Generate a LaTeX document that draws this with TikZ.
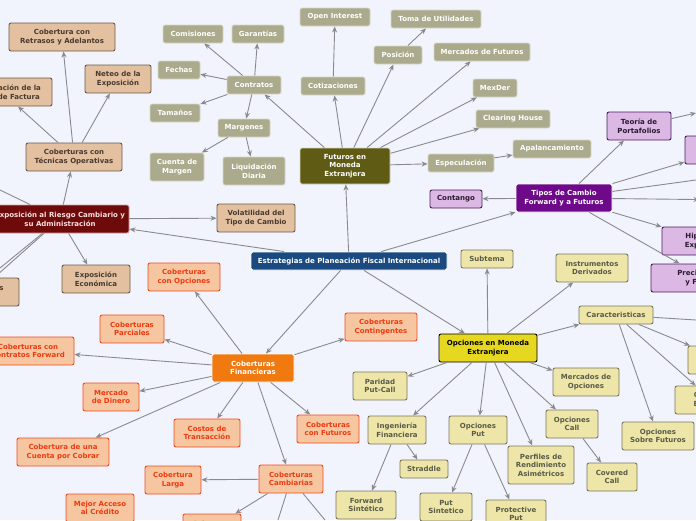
\documentclass[tikz,border=0pt]{standalone}
\usepackage{fontspec}
\setmainfont{DejaVu Sans}
\usetikzlibrary{arrows.meta}
\definecolor{bgc}{HTML}{F2F4FD}
\definecolor{edgec}{HTML}{8A8A8E}
\definecolor{tanF}{HTML}{E2C0A0}\definecolor{tanD}{HTML}{6B5A48}\definecolor{tanT}{HTML}{4A3A2E}
\definecolor{olvF}{HTML}{ABAA8C}\definecolor{olvD}{HTML}{D8D8C8}
\definecolor{purF}{HTML}{DCB8E4}\definecolor{purD}{HTML}{4A1A5A}\definecolor{purT}{HTML}{2A1A30}
\definecolor{yelF}{HTML}{EDE6A8}\definecolor{yelD}{HTML}{7A7660}\definecolor{yelT}{HTML}{5A5A48}
\definecolor{oraF}{HTML}{F6C6A0}\definecolor{oraD}{HTML}{F04A20}\definecolor{oraT}{HTML}{F03A10}
\definecolor{mainF}{HTML}{1A4A80}
\definecolor{redF}{HTML}{6E0A0A}\definecolor{redD}{HTML}{D8A0A0}\definecolor{redT}{HTML}{F8E0E0}
\definecolor{futF}{HTML}{5F5A14}\definecolor{futD}{HTML}{D8D8C0}
\definecolor{tipF}{HTML}{6E0A8A}
\definecolor{opcF}{HTML}{E6D820}
\definecolor{cfiF}{HTML}{F07A10}
\tikzset{
 box/.style={draw, rounded corners=2pt, line width=0.9pt, align=center, inner sep=1pt, font=\fontsize{7}{8.5}\selectfont\bfseries},
 tan/.style={box, fill=tanF, draw=tanD, text=tanT},
 olv/.style={box, fill=olvF, draw=olvD, text=white},
 pur/.style={box, fill=purF, draw=purD, text=purT},
 yel/.style={box, fill=yelF, draw=yelD, text=yelT},
 ora/.style={box, fill=oraF, draw=oraD, text=oraT},
 con/.style={draw=edgec, line width=0.9pt, -{Stealth[length=6pt,width=5pt]}},
 lin/.style={draw=edgec, line width=0.9pt},
}
\newcommand{\N}[7]{\node[#6, minimum width=#4pt, minimum height=#5pt] (#1) at (#2,#3) {#7};}
\begin{document}
\begin{tikzpicture}[x=1pt,y=-1pt]
\useasboundingbox (0,0) rectangle (696,520);
\fill[bgc] (0,0) rectangle (696,520);
\clip (0,0) rectangle (696,520);
% main
\N{main}{349}{261}{196}{18}{box,fill=mainF,draw=white,text=white}{Estrategias de Planeación Fiscal Internacional}
\N{red}{60}{219}{138}{28}{box,fill=redF,draw=redD,text=redT}{Exposición al Riesgo Cambiario y\\su Administración}
\N{ret}{62}{37}{106}{28}{tan}{Cobertura con\\Retrasos y Adelantos}
\N{net}{118}{79}{66}{28}{tan}{Neteo de la\\Exposición}
\N{fac}{2}{92}{100}{28}{tan}{Denominación de la\\Moneda de Factura}
\N{tec}{74}{157}{96}{28}{tan}{Coberturas con\\Técnicas Operativas}
\N{vol}{256}{218}{78}{28}{tan}{Volatilidad del\\Tipo de Cambio}
\N{eco}{96}{279}{68}{28}{tan}{Exposición\\Económica}
\N{cnt}{-22}{292}{82}{28}{tan}{Exposiciones\\Contables}
\coordinate (offL) at (0,190);
\coordinate (offL2) at (0,268);
% futures
\N{fut}{345}{166}{90}{36}{box,fill=futF,draw=futD,text=white}{Futuros en\\Moneda\\Extranjera}
\N{com}{193}{34}{60}{18}{olv}{Comisiones}
\N{gar}{258}{34}{52}{18}{olv}{Garantías}
\N{fec}{179}{70}{42}{18}{olv}{Fechas}
\N{ctr}{254}{85}{54}{18}{olv}{Contratos}
\N{tam}{175}{113}{50}{18}{olv}{Tamaños}
\N{mar}{244}{128}{52}{18}{olv}{Margenes}
\N{cue}{177}{167}{54}{28}{olv}{Cuenta de\\Margen}
\N{liq}{254}{171}{62}{28}{olv}{Liquidación\\Diaria}
\N{ope}{335}{17}{70}{18}{olv}{Open Interest}
\N{tom}{436}{19}{90}{18}{olv}{Toma de Utilidades}
\N{pos}{398}{55}{48}{18}{olv}{Posición}
\N{mfu}{482}{52}{96}{18}{olv}{Mercados de Futuros}
\N{cot}{333}{86}{64}{18}{olv}{Cotizaciones}
\N{mex}{495}{88}{44}{18}{olv}{MexDer}
\N{cle}{513}{119}{74}{18}{olv}{Clearing House}
\N{esp}{461}{163}{66}{18}{olv}{Especulación}
\N{apa}{552}{149}{78}{18}{olv}{Apalancamiento}
% purple
\N{tip}{564}{198}{96}{28}{box,fill=tipF,draw=white,text=white}{Tipos de Cambio\\Forward y a Futuros}
\N{cgo}{456}{199}{52}{18}{pur}{Contango}
\N{teo}{639}{126}{64}{28}{pur}{Teoría de\\Portafolios}
\N{p1}{725}{150}{80}{28}{pur}{Prima a\\Plazo}
\N{p2}{740}{200}{80}{28}{pur}{Backwardation}
\N{hip}{710}{241}{96}{28}{pur}{Hipótesis de\\Expectativas}
\N{pre}{705}{278}{108}{28}{pur}{Precio a Plazo\\y Forward}
\coordinate (offT) at (696,113);
\coordinate (offT2) at (696,180);
% yellow
\N{opc}{488}{348}{98}{28}{box,fill=opcF,draw=black,text=black}{Opciones en Moneda\\Extranjera}
\N{sub}{487}{259}{52}{18}{yel}{Subtema}
\N{ins}{592}{268}{72}{28}{yel}{Instrumentos\\Derivados}
\N{car}{616}{315}{74}{18}{yel}{Caracteristicas}
\N{mop}{586}{382}{66}{28}{yel}{Mercados de\\Opciones}
\N{par}{380}{386}{54}{28}{yel}{Paridad\\Put-Call}
\N{ing}{397}{430}{58}{28}{yel}{Ingeniería\\Financiera}
\N{oput}{478}{430}{58}{28}{yel}{Opciones\\Put}
\N{ocal}{572}{424}{52}{28}{yel}{Opciones\\Call}
\N{per}{541}{465}{66}{38}{yel}{Perfiles de\\Rendimiento\\Asimétricos}
\N{str}{424}{469}{48}{18}{yel}{Straddle}
\N{cov}{612}{477}{50}{28}{yel}{Covered\\Call}
\N{osf}{658}{436}{72}{28}{yel}{Opciones\\Sobre Futuros}
\N{fws}{366}{505}{60}{28}{yel}{Forward\\Sintético}
\N{pus}{446}{507}{52}{28}{yel}{Put\\Sintetico}
\N{pro}{516}{514}{60}{28}{yel}{Protective\\Put}
\N{oam}{725}{360}{74}{28}{yel}{Opciones\\Americanas}
\N{oeu}{712}{400}{74}{28}{yel}{Opciones\\Europeas}
\coordinate (offC) at (696,320);
% orange
\N{cfi}{253}{368}{82}{28}{box,fill=cfiF,draw=white,text=white}{Coberturas\\Financieras}
\N{cop}{184}{277}{72}{28}{ora}{Coberturas\\con Opciones}
\N{cco}{381}{327}{72}{28}{ora}{Coberturas\\Contingentes}
\N{cpa}{132}{329}{64}{28}{ora}{Coberturas\\Parciales}
\N{cfw}{28}{351}{92}{28}{ora}{Coberturas con\\Contratos Forward}
\N{mdi}{111}{397}{56}{28}{ora}{Mercado\\de Dinero}
\N{cos}{207}{433}{66}{28}{ora}{Costos de\\Transacción}
\N{cfu}{328}{429}{62}{28}{ora}{Coberturas\\con Futuros}
\N{ccc}{63}{452}{92}{28}{ora}{Cobertura de una\\Cuenta por Cobrar}
\N{cca}{291}{479}{64}{28}{ora}{Coberturas\\Cambiarias}
\N{cla}{173}{480}{56}{28}{ora}{Cobertura\\Larga}
\N{mac}{100}{508}{68}{28}{ora}{Mejor Acceso\\al Crédito}
\N{cco2}{212}{528}{58}{28}{ora}{Cobertura\\Corta}
\coordinate (offB1) at (278,520);
\coordinate (offB2) at (325,520);
% edges
\foreach \a/\b in {main/red, main/fut, main/tip, main/cfi, main/opc,
 red/tec, red/vol, red/eco, red/cnt, tec/ret, tec/net, tec/fac,
 fut/ctr, fut/cot, fut/pos, fut/mfu, fut/mex, fut/cle, fut/esp,
 ctr/com, ctr/gar, ctr/fec, ctr/tam, ctr/mar, mar/cue, mar/liq,
 cot/ope, pos/tom, esp/apa,
 tip/cgo, tip/teo, tip/p1, tip/p2, tip/hip, tip/pre,
 opc/sub, opc/ins, opc/car, opc/mop, opc/par, opc/ing, opc/oput, opc/ocal, opc/per,
 ing/str, ing/fws, oput/pus, oput/pro, ocal/cov, car/osf, car/oeu, car/oam,
 cfi/cop, cfi/cco, cfi/cpa, cfi/cfw, cfi/mdi, cfi/cos, cfi/cfu, cfi/ccc, cfi/cca,
 cca/cla, cca/cco2}
 \draw[con] (\a) -- (\b);
\draw[lin] (red) -- (offL);
\draw[lin] (red) -- (offL2);
\draw[con] (teo) -- (offT);
\draw[lin] (tip) -- (offT2);
\draw[lin] (car) -- (offC);
\draw[lin] (cca) -- (offB1);
\draw[lin] (cca) -- (offB2);
\end{tikzpicture}
\end{document}
